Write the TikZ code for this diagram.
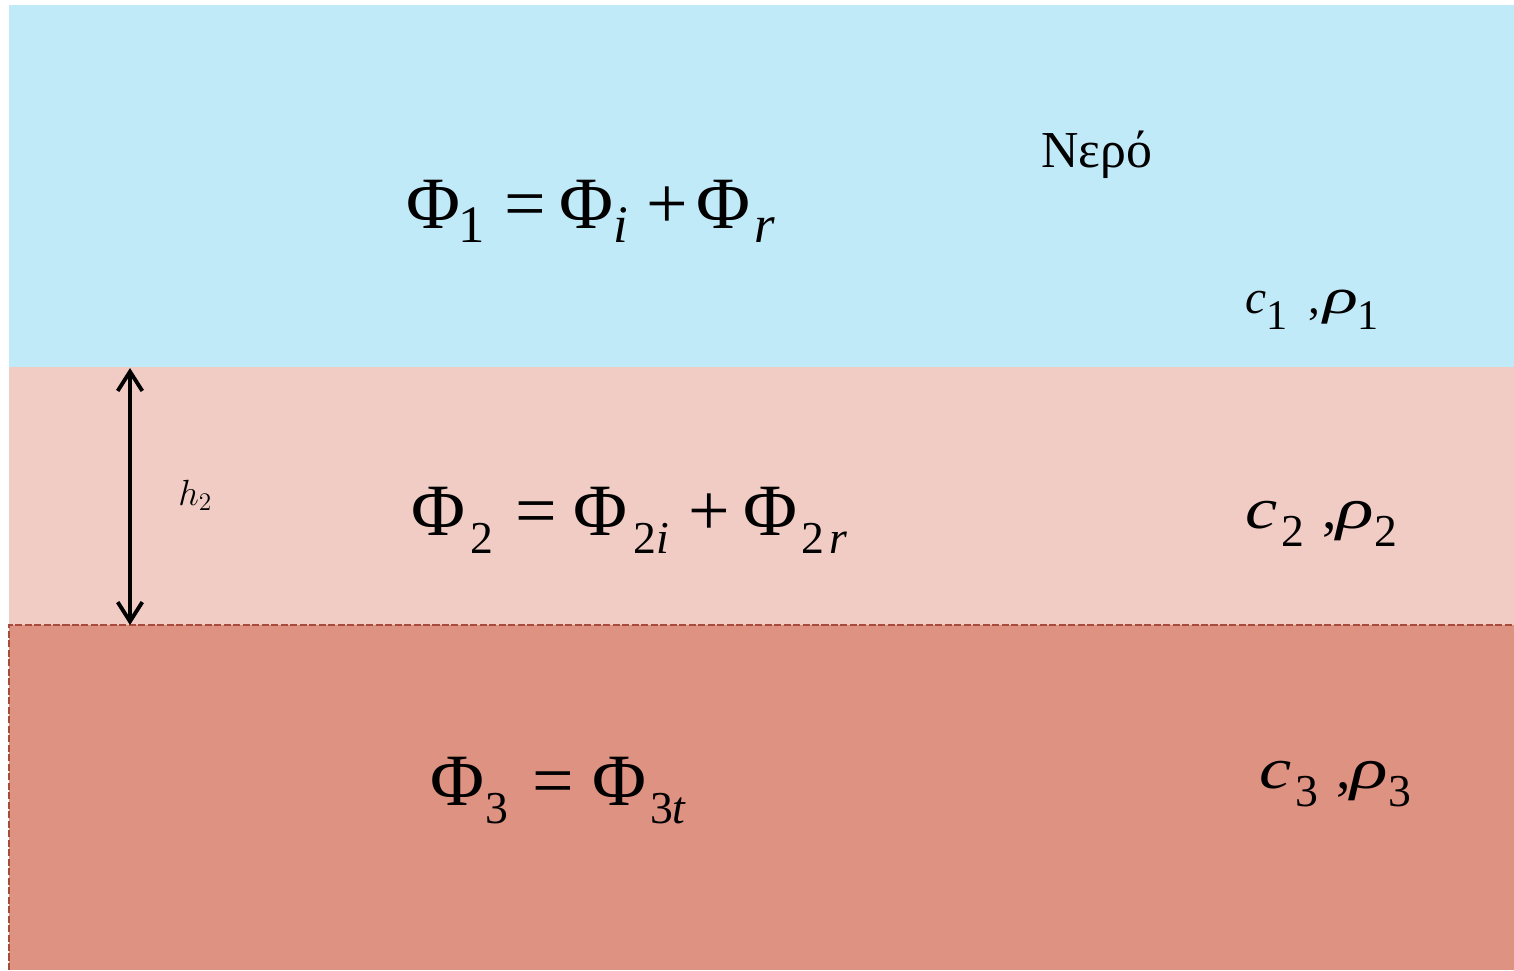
\documentclass[tikz,border=0pt]{standalone}
\usepackage{fontspec}
\setmainfont{Liberation Serif}
\usetikzlibrary{arrows.meta}

\definecolor{water}{HTML}{C1EAF9}
\definecolor{layertwo}{HTML}{F0CCC5}
\definecolor{layerthree}{HTML}{DE9282}
\definecolor{rim}{HTML}{A84B3C}

% lowered subscripts, as in the equations
\newcommand{\subA}[1]{\lower8.5pt\hbox{\fontsize{30}{30}\selectfont#1}}
\newcommand{\subB}[1]{\lower10.5pt\hbox{\fontsize{26}{26}\selectfont#1}}
\newcommand{\subC}[1]{\lower9.5pt\hbox{\fontsize{24}{24}\selectfont#1}}
\newcommand{\subD}[1]{\lower10.5pt\hbox{\fontsize{26}{26}\selectfont#1}}
\newcommand{\wide}[2]{\scalebox{#1}[1]{\textit{#2}}}

\begin{document}
\begin{tikzpicture}[x=0.02cm,y=-0.02cm,>={Straight Barb[length=11pt,width=14pt]},
  eq/.style={anchor=base west,inner sep=0pt,font=\fontsize{42}{48}\selectfont},
  prop/.style={anchor=base west,inner sep=0pt,font=\fontsize{27}{30}\selectfont}]
\useasboundingbox (0,0) rectangle (1514,970);

\fill[water] (9,5) rectangle (1514,367);
\fill[layertwo] (9,367) rectangle (1514,625);
\fill[layerthree] (9,625) rectangle (1514,970);
\draw[rim,line width=1pt,dash pattern=on 4pt off 1.4pt] (9,970) -- (9,625) -- (1514,625);

\node[prop,font=\fontsize{29.5}{32}\selectfont] (nero) at (1041,167) {Νερό};

\node[eq] (phione) at (406,228) {Φ\kern-1pt\subA{1}\hspace{11pt}=\hspace{7.6pt}Φ\subA{\textit{i}}\hspace{10.8pt}+\hspace{4.8pt}Φ\hspace{2pt}\subA{\textit{r}}};
\node[eq] (phitwo) at (411,535) {Φ\kern2.8pt\subB{2}\hspace{13pt}=\hspace{9.3pt}Φ\kern3.4pt\subB{2\textit{i}}\hspace{11pt}+\hspace{7.6pt}Φ\kern2.3pt\subB{2\kern3pt\textit{r}}};
\node[eq] (phithree) at (430,805) {Φ\kern0.5pt\subB{3}\hspace{13.7pt}=\hspace{10.5pt}Φ\kern2.3pt\subB{3\textit{t}}};

\node[prop] (cone) at (1245,313) {\textit{c}\subC{1}\hspace{12pt},\kern1.5pt{\fontsize{28.5}{30}\selectfont\wide{1.45}{ρ}}\subC{1}};
\node[prop,font=\fontsize{33}{36}\selectfont] (ctwo) at (1245,528) {\wide{1.25}{c}\kern2pt\subD{2}\hspace{10.5pt},\kern0pt{\fontsize{33}{36}\selectfont\wide{1.35}{ρ}}\subD{2}};
\node[prop,font=\fontsize{33}{36}\selectfont] (cthree) at (1259,788) {\wide{1.25}{c}\kern2pt\subD{3}\hspace{10.5pt},\kern0pt{\fontsize{33}{36}\selectfont\wide{1.35}{ρ}}\subD{3}};

\coordinate (htop) at (130,368);
\coordinate (hbot) at (130,625);
\draw[<->,line width=2.2pt] (htop) -- (hbot);
\node[anchor=base west,inner sep=0pt,font=\fontsize{21}{23}\selectfont] (hlab) at (178,505) {$h_2$};
\end{tikzpicture}
\end{document}
